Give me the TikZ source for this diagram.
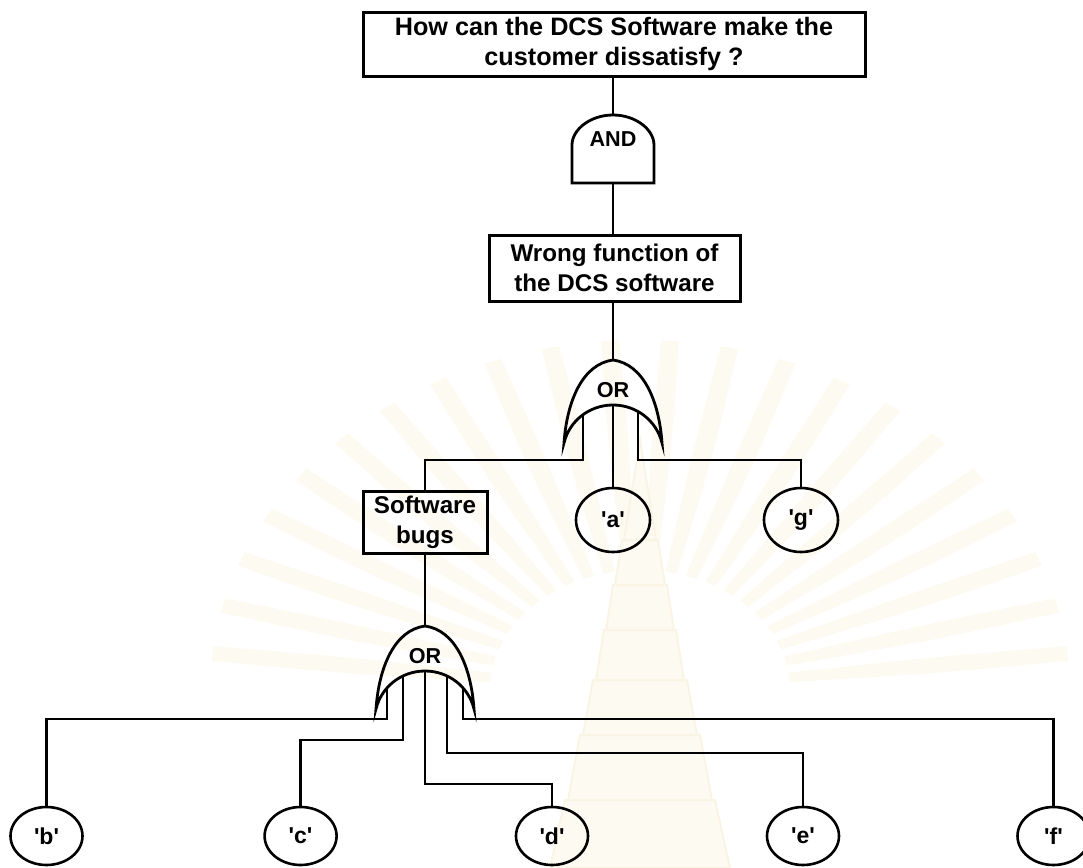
\documentclass[tikz,border=0pt]{standalone}
\usepackage{fontspec}
\setmainfont{Liberation Sans}
\usetikzlibrary{shapes.geometric}
\definecolor{seal}{RGB}{253,250,241}
\definecolor{sealedge}{RGB}{249,244,228}
\newcommand\qmark{\textquotesingle}
\begin{document}
\begin{tikzpicture}[x=0.5pt, y=-0.5pt,
  line width=1.3pt,
  every node/.style={font=\fontsize{12.1}{15}\selectfont\bfseries},
  eventbox/.style={draw, line width=1.5pt, rectangle, inner sep=0pt, align=center},
  basic/.style={draw, line width=1.3pt, ellipse, inner sep=0pt,
    minimum width=36pt, minimum height=29pt, font=\fontsize{11.5}{13}\selectfont\bfseries},
  gatelabel/.style={font=\fontsize{10.8}{12}\selectfont\bfseries, inner sep=0pt},
  gateline/.style={draw, line width=1.4pt},
  ray/.style={fill=seal, draw=none},
  tier/.style={fill=seal, draw=sealedge, line width=1pt},
  orgate/.pic={
    \path[gateline] (-49,83) .. controls (-46,40) and (-30,4) .. (0,0)
      .. controls (30,4) and (46,40) .. (49,83)
      .. controls (43.5,60.4) and (23.2,45) .. (0,45)
      .. controls (-23.2,45) and (-43.5,60.4) .. (-49,83) -- cycle;
    \node[gatelabel] (-label) at (0,30) {OR};
    \coordinate (-top) at (0,0);
  },
  andgate/.pic={
    \path[gateline] (-41,68) -- (-41,30)
      .. controls (-41,14.5) and (-22.6,0) .. (0,0)
      .. controls (22.6,0) and (41,14.5) .. (41,30) -- (41,68) -- cycle;
    \node[gatelabel] (-label) at (0,24.5) {AND};
    \coordinate (-top) at (0,0);
    \coordinate (-bottom) at (0,68);
  }]
\useasboundingbox (0,0) rectangle (1083,868);

% faint seal printed behind the tree
\begin{scope}[shift={(640,690)}]
  \foreach \t in {-174,-166,...,-6}{
    \path[ray] (\t-2.2:150 and 120) .. controls (\t-2:300 and 240) .. (\t-1.2:430 and 350)
      -- (\t+1.2:430 and 350) .. controls (\t+2:300 and 240) .. (\t+2.2:150 and 120) -- cycle;
  }
\end{scope}
\path[tier] (550,868) -- (565,800) -- (715,800) -- (730,868) -- cycle;
\path[tier] (568,800) -- (580,735) -- (700,735) -- (712,800) -- cycle;
\path[tier] (583,735) -- (593,680) -- (687,680) -- (697,735) -- cycle;
\path[tier] (596,680) -- (604,630) -- (676,630) -- (684,680) -- cycle;
\path[tier] (606,630) -- (613,585) -- (667,585) -- (674,630) -- cycle;
\path[tier] (615,585) -- (622,540) -- (658,540) -- (665,585) -- cycle;
\path[tier] (624,540) -- (640,440) -- (656,540) -- cycle;

% events
\node[eventbox, minimum width=251pt, minimum height=32pt,
  font=\fontsize{12.6}{15}\selectfont\bfseries] (top) at (614,44)
  {How can the DCS Software make the\\customer dissatisfy ?};
\node[eventbox, minimum width=125.5pt, minimum height=33pt] (wrong) at (614.5,268)
  {Wrong function of\\the DCS software};
\node[eventbox, minimum width=62pt, minimum height=31pt] (bugs) at (425,522)
  {Software\\bugs};

% basic events
\node[basic, minimum width=37pt, minimum height=32pt] (a) at (613,520) {\qmark a\qmark};
\node[basic, minimum width=37pt, minimum height=32pt] (g) at (801,520) {\qmark g\qmark};
\node[basic] (b) at (46.5,836) {\qmark b\qmark};
\node[basic] (c) at (300.6,836) {\qmark c\qmark};
\node[basic] (d) at (552,836) {\qmark d\qmark};
\node[basic] (e) at (803,836) {\qmark e\qmark};
\node[basic] (f) at (1053.5,836) {\qmark f\qmark};

% gates
\pic (and) at (613,115) {andgate};
\pic (or1) at (613,360) {orgate};
\pic (or2) at (425,626) {orgate};

% gate output points on the inner arcs
\coordinate (or1-o1) at (583,414.5);
\coordinate (or1-o2) at (613,405);
\coordinate (or1-o3) at (638,411.2);
\coordinate (or2-o1) at (387,687.9);
\coordinate (or2-o2) at (403,675.7);
\coordinate (or2-o3) at (425,671);
\coordinate (or2-o4) at (447,675.7);
\coordinate (or2-o5) at (463,687.9);

% connectors
\draw (top.south -| and-top) -- (and-top);
\draw (and-bottom) -- (and-bottom |- wrong.north);
\draw (wrong.south -| or1-top) -- (or1-top);
\draw (or1-o1) -- ++(0,45.5) -| (bugs.north);
\draw (or1-o2) -- (a.north);
\draw (or1-o3) -- ++(0,48.8) -| (g.north);
\draw (bugs.south) -- (or2-top);
\draw (or2-o1) -- ++(0,31.1) -| (b.north);
\draw (or2-o2) -- ++(0,64.3) -| (c.north);
\draw (or2-o3) -- ++(0,113) -| (d.north);
\draw (or2-o4) -- ++(0,77.3) -| (e.north);
\draw (or2-o5) -- ++(0,31.1) -| (f.north);
\end{tikzpicture}
\end{document}
